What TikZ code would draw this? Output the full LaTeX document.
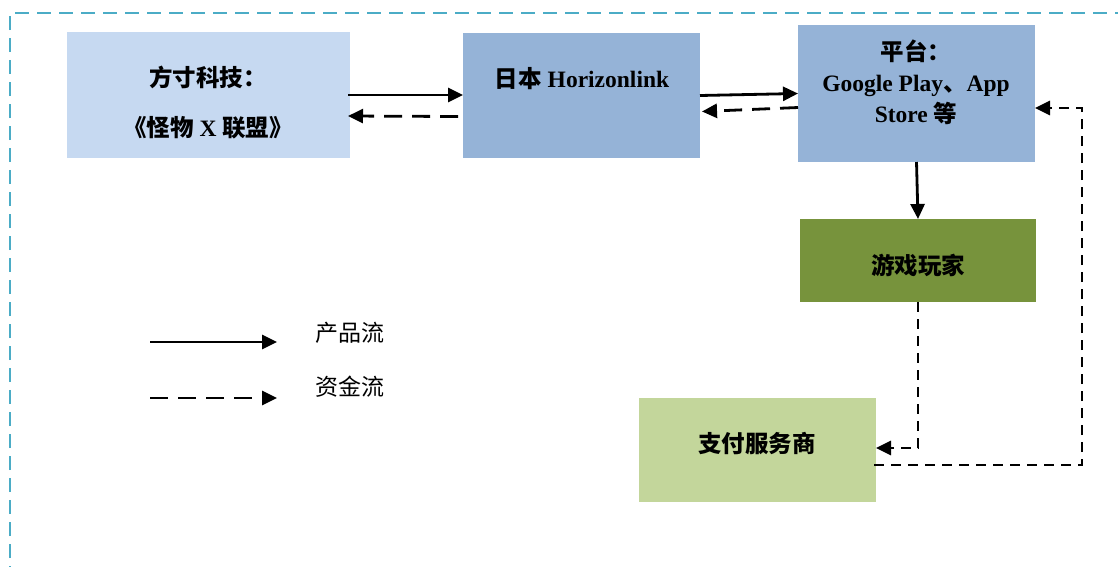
\documentclass[tikz,border=0pt]{standalone}
\usepackage{fontspec}
\setmainfont{Liberation Serif}
\newfontfamily\cjk{Noto Sans CJK SC}
\usetikzlibrary{arrows.meta}
\definecolor{boxA}{HTML}{C6D9F1}
\definecolor{boxB}{HTML}{95B3D7}
\definecolor{boxD}{HTML}{77933C}
\definecolor{boxE}{HTML}{C3D69B}
\definecolor{frame}{HTML}{4BACC6}
\tikzset{
  box/.style={rectangle, draw=none, inner sep=0pt, outer sep=0pt},
  lbl/.style={inner sep=0pt, align=center, text=black, font=\fontsize{23.5}{28}\selectfont\bfseries},
  legtext/.style={inner sep=0pt, text=black, font=\fontsize{23}{28}\selectfont\cjk},
  prod/.style={line width=2.8pt, -{Triangle[length=15pt,width=14pt]}},
  money/.style={line width=2.8pt, dash pattern=on 18pt off 10pt, -{Triangle[length=15pt,width=14pt]}},
  money2/.style={line width=2.8pt, dash pattern=on 10pt off 7pt, -{Triangle[length=15pt,width=14pt]}},
}
\begin{document}
\begin{tikzpicture}[x=1pt,y=-1pt]
\path[use as bounding box] (0,0) rectangle (1118,566);
\draw[frame, line width=2.6pt, dash pattern=on 14pt off 8pt] (10,580) -- (10,13) -- (1130,13);

\node[box, fill=boxA, minimum width=283pt, minimum height=126pt] (A) at (208.5,95) {};
\node[box, fill=boxB, minimum width=237pt, minimum height=125pt] (B) at (581.5,95.5) {};
\node[box, fill=boxB, minimum width=237pt, minimum height=137pt] (C) at (916.5,93.5) {};
\node[box, fill=boxD, minimum width=236pt, minimum height=83pt] (D) at (918,260.5) {};
\node[box, fill=boxE, minimum width=237pt, minimum height=104pt] (E) at (757.5,450) {};

\node[lbl, font=\fontsize{23.5}{50}\selectfont\bfseries] (At) at (208,103) {{\cjk 方寸科技：}\\{\cjk 《怪物} X {\cjk 联盟》}};
\node[lbl] (Bt) at (582,79) {{\cjk 日本} Horizonlink};
\node[lbl, font=\fontsize{23.5}{31}\selectfont\bfseries] (Ct) at (916,82) {{\cjk 平台：}\\Google Play{\cjk 、}App\\Store {\cjk 等}};
\node[lbl] (Dt) at (918,265) {\cjk 游戏玩家};
\node[lbl] (Et) at (757,443) {\cjk 支付服务商};

\draw[prod] ([xshift=-2pt]A.east) -- (B.west |- A.east);
\draw[money] ([yshift=-21pt,xshift=-5pt]B.west) -- ([yshift=-21pt,xshift=-2pt]A.east);
\draw[prod] (B.east) -- (C.west);
\draw[money] ([yshift=-14pt]C.west) -- ([yshift=-16pt,xshift=2pt]B.east);
\draw[prod] (C.south) -- (D.north);
\draw[money2] (D.south) |- ([yshift=2pt]E.east);
\coordinate (k) at (1082,108);
\draw[money2] ([yshift=-15pt,xshift=-2pt]E.east) -| (k) -- (C.east |- k);

\coordinate (l1a) at (150,342);
\coordinate (l1b) at (277,342);
\coordinate (l2a) at (150,398);
\coordinate (l2b) at (277,398);
\draw[prod] (l1a) -- (l1b);
\draw[money] (l2a) -- (l2b);
\node[legtext] (L1) at (350,333) {产品流};
\node[legtext] (L2) at (350,387) {资金流};
\end{tikzpicture}
\end{document}
